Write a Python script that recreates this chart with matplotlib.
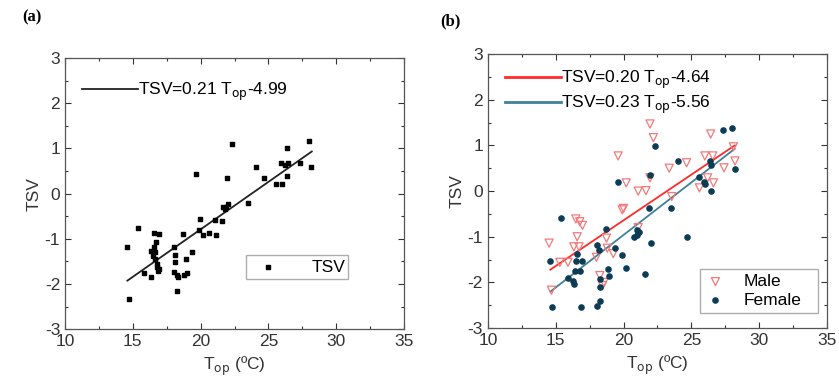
# Thermal sensation vote (TSV) vs operative temperature, two panels.
import matplotlib.pyplot as plt
import numpy as np

plt.rcParams['font.family'] = ['Liberation Sans', 'DejaVu Sans']
plt.rcParams['axes.unicode_minus'] = False

# panel (a): all subjects
all_top = [14.54, 14.74, 15.35, 15.82, 16.31, 16.31, 16.46, 16.56, 16.56, 16.62,
           16.66, 16.70, 16.75, 16.80, 16.85, 16.90, 16.95, 18.03, 18.13, 18.13,
           18.03, 18.30, 18.25, 18.25, 18.69, 18.77, 18.91, 18.96, 19.40, 19.63,
           19.95, 19.90, 20.19, 20.63, 21.05, 21.12, 21.60, 21.66, 21.90, 21.98,
           22.03, 21.80, 22.33, 23.50, 24.05, 24.66, 25.55, 26.00, 25.96, 26.20,
           26.36, 26.38, 26.48, 27.36, 28.00, 28.17]
all_tsv = [-1.17, -2.34, -0.77, -1.76, -1.85, -1.26, -1.39, -0.86, -1.17, -1.30,
           -1.45, -1.06, -1.55, -1.62, -1.70, -1.66, -0.89, -1.17, -1.36, -1.52,
           -1.73, -1.84, -2.15, -1.80, -0.90, -1.80, -1.45, -1.76, -1.30, 0.43,
           -0.55, -0.80, -0.92, -0.86, -0.58, -0.92, -0.60, -0.29, -0.29, 0.34,
           -0.23, -0.33, 1.09, -0.21, 0.58, 0.34, 0.21, 0.21, 0.67, 0.63,
           1.00, 0.40, 0.67, 0.67, 1.17, 0.58]

# panel (b): male / female
male_top = [14.51, 14.68, 15.30, 15.90, 16.33, 16.48, 16.58, 16.77, 16.97, 16.72,
            18.00, 18.25, 18.45, 18.74, 18.80, 19.24, 19.60, 19.90, 20.00, 20.20,
            21.08, 21.65, 21.95, 22.20, 21.95, 21.08, 23.55, 23.37, 24.65, 25.60,
            26.00, 26.43, 26.58, 26.63, 27.41, 28.10, 28.22, 26.20, 18.55]
male_tsv = [-1.14, -2.17, -1.56, -1.56, -1.22, -0.61, -1.00, -0.67, -0.75, -1.22,
            -1.45, -1.85, -2.07, -1.03, -1.25, -1.37, 0.77, -0.41, -0.38, 0.18,
            0.00, 0.01, 1.47, 1.17, 0.29, -0.80, -0.12, 0.50, 0.62, 0.07,
            0.77, 1.25, 0.77, 0.18, 0.51, 0.97, 0.66, 0.29, -2.00]
female_top = [14.56, 14.73, 15.37, 15.90, 16.28, 16.33, 16.60, 16.50, 16.90, 16.45,
              16.80, 16.85, 18.03, 18.18, 18.25, 18.30, 18.05, 18.25, 18.70, 18.82,
              18.92, 19.38, 19.60, 19.88, 20.17, 20.76, 21.00, 21.17, 21.00, 21.55,
              21.87, 22.00, 21.95, 22.30, 24.04, 23.52, 24.70, 25.60, 25.90, 26.00,
              26.38, 26.43, 26.43, 27.36, 28.03, 28.22]
female_tsv = [-1.52, -2.53, -0.58, -1.91, -1.96, -2.04, -1.37, -1.54, -1.54, -1.76,
              -1.74, -2.53, -1.19, -1.30, -1.93, -2.11, -2.52, -2.40, -0.82, -1.70,
              -1.85, -1.24, 0.20, -1.41, -1.69, -1.00, -0.97, -0.89, -0.85, -1.82,
              -0.38, -1.13, 0.35, 0.99, 0.66, -0.38, -1.00, 0.31, 0.20, 0.15,
              0.66, 0.58, 0.00, 1.34, 1.39, 0.49]

# regression coefficients (slope, intercept) and fitted range
fit_all = (0.21, -4.99)
fit_male = (0.20, -4.64)
fit_female = (0.23, -5.56)
fit_range = [14.6, 28.2]

RED = '#ff2a2a'
TEAL_LINE = '#3f8199'
TEAL_DOT = '#0c3b55'
PINK = '#f27a7a'


def style_axes(ax):
    ax.set_xlim(10, 35)
    ax.set_ylim(-3, 3)
    ax.set_xticks([10, 15, 20, 25, 30, 35])
    ax.set_yticks([-3, -2, -1, 0, 1, 2, 3])
    ax.set_xticks(np.arange(12.5, 35, 5), minor=True)
    ax.set_yticks(np.arange(-2.5, 3, 1), minor=True)
    ax.tick_params(which='both', direction='in', top=True, right=True,
                   labelsize=12.5, colors='#333333', width=0.8)
    ax.tick_params(which='major', length=4)
    ax.tick_params(which='minor', length=2.5)
    for s in ax.spines.values():
        s.set_color('#555555')
        s.set_linewidth(0.9)
    ax.set_xlabel(r'T$_{\rm op}$ (ºC)', fontsize=12.5, color='#333333', labelpad=4)
    ax.set_ylabel('TSV', fontsize=12.5, color='#333333', labelpad=2)


def fit_line(ax, coef, color, label):
    xs = np.array(fit_range)
    ax.plot(xs, coef[0] * xs + coef[1], color=color, lw=1.3, label=label)


fig = plt.figure(figsize=(8.39, 3.92), dpi=100)
ax1 = fig.add_axes([0.0775, 0.160, 0.404, 0.692])
ax2 = fig.add_axes([0.5816, 0.163, 0.404, 0.699])

# (a)
sq = ax1.scatter(all_top, all_tsv, marker='s', s=11, color='black', label='TSV', zorder=3)
fit_line(ax1, fit_all, '#222222', r'TSV=0.21 T$_{\rm op}$-4.99')
style_axes(ax1)
leg_line = ax1.legend(handles=[ax1.lines[0]], loc='upper left', bbox_to_anchor=(0.03, 0.94),
                      frameon=False, fontsize=12.5, handlelength=3.2, handletextpad=0,
                      borderaxespad=0)
ax1.add_artist(leg_line)
ax1.legend(handles=[sq], loc='lower left', bbox_to_anchor=(0.534, 0.185, 0.30, 0.095),
           mode='expand', fontsize=12.5, fancybox=False, edgecolor='#999999',
           handletextpad=1.5, borderpad=0.25, borderaxespad=0)

# (b)
tri = ax2.scatter(male_top, male_tsv, marker='v', s=34, facecolors='none',
                  edgecolors=PINK, linewidths=0.9, label='Male', zorder=3)
dot = ax2.scatter(female_top, female_tsv, marker='o', s=14, color=TEAL_DOT,
                  label='Female', zorder=3)
fit_line(ax2, fit_male, RED, r'TSV=0.20 T$_{\rm op}$-4.64')
fit_line(ax2, fit_female, TEAL_LINE, r'TSV=0.23 T$_{\rm op}$-5.56')
style_axes(ax2)
leg_lines = ax2.legend(handles=ax2.lines[:2], loc='upper left', bbox_to_anchor=(0.03, 0.97),
                       frameon=False, fontsize=12.5, handlelength=3.2, handletextpad=0,
                       borderaxespad=0, labelspacing=0.15)
for ln in leg_lines.get_lines():
    ln.set_linewidth(2)
ax2.add_artist(leg_lines)
ax2.legend(handles=[tri, dot], loc='lower left', bbox_to_anchor=(0.625, 0.055, 0.35, 0.18),
           mode='expand', fontsize=12.5, fancybox=False, edgecolor='#999999',
           handlelength=1.2, handletextpad=1.0, borderpad=0.3, borderaxespad=0,
           labelspacing=0.2)

fig.text(0.026, 0.955, '(a)', fontsize=12, fontweight='bold', family='Liberation Serif',
         va='center')
fig.text(0.525, 0.945, '(b)', fontsize=12, fontweight='bold', family='Liberation Serif',
         va='center')

fig.savefig('out.png', dpi=100)
